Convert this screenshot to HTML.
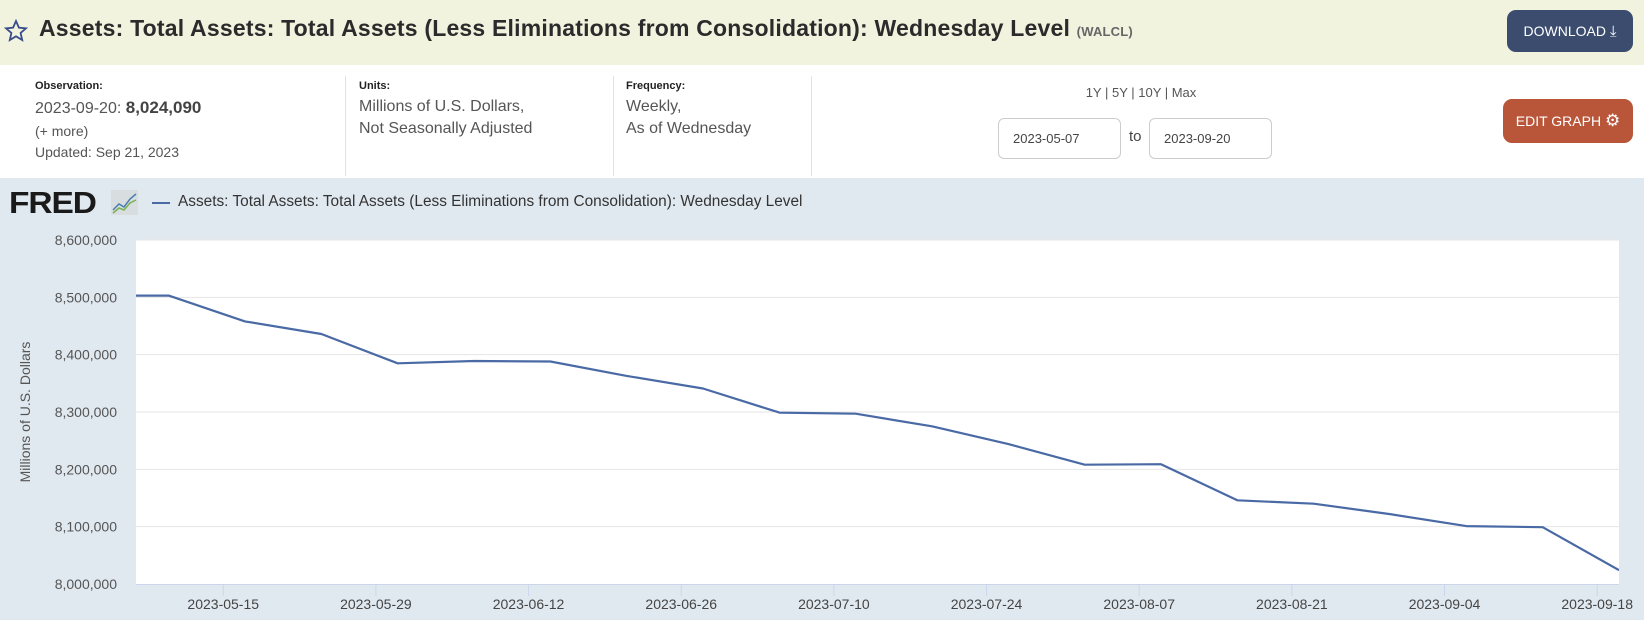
<!DOCTYPE html>
<html><head><meta charset="utf-8">
<style>
*{box-sizing:border-box;margin:0;padding:0}
body{width:1644px;height:620px;overflow:hidden;background:#fff;font-family:"Liberation Sans","DejaVu Sans",sans-serif;color:#333;position:relative}
.abs{position:absolute}
#header{left:0;top:0;width:1644px;height:65px;background:#f1f3df}
#title{left:39px;top:15px;font-size:23px;font-weight:bold;color:#2b2b2b;white-space:nowrap;letter-spacing:0.2px}
#title small{font-size:13px;font-weight:bold;color:#666}
.btn{color:#fff;font-size:14px;border-radius:9px;display:flex;align-items:center;justify-content:center}
.lbl{font-size:11px;font-weight:bold;color:#222}
.txt{font-size:16px;color:#555;line-height:22px}
.sep{width:1px;background:#dde3ea;top:76px;height:100px}
.inp{border:1px solid #ccc;border-radius:6px;font-size:13px;color:#444;padding:0 0 0 14px;display:flex;align-items:center}
#chartbg{left:0;top:178px;width:1644px;height:442px;background:#e1e9f0}
</style></head><body>
<div id="header" class="abs"></div>
<svg class="abs" style="left:4px;top:19px" width="24" height="24" viewBox="0 0 24 24"><polygon points="12,2 14.9,8.6 22,9.3 16.6,14 18.2,21 12,17.3 5.8,21 7.4,14 2,9.3 9.1,8.6" fill="none" stroke="#3b4c8a" stroke-width="1.8"/></svg>
<div id="title" class="abs">Assets: Total Assets: Total Assets (Less Eliminations from Consolidation): Wednesday Level <small>(WALCL)</small></div>
<div class="abs btn" style="left:1507px;top:10px;width:126px;height:42px;background:#3b4c6e">DOWNLOAD&nbsp;<span style="font-size:15px">⤓</span></div>

<div class="abs lbl" style="left:35px;top:80px">Observation:</div>
<div class="abs txt" style="left:35px;top:97px">2023-09-20: <b style="font-size:17px;color:#444">8,024,090</b></div>
<div class="abs txt" style="left:35px;top:120px;font-size:14px">(+ more)</div>
<div class="abs txt" style="left:35px;top:141px;font-size:14px">Updated: Sep 21, 2023</div>
<div class="abs sep" style="left:345px"></div>
<div class="abs lbl" style="left:359px;top:80px">Units:</div>
<div class="abs txt" style="left:359px;top:96px">Millions of U.S. Dollars,<br>Not Seasonally Adjusted</div>
<div class="abs sep" style="left:613px"></div>
<div class="abs lbl" style="left:626px;top:80px">Frequency:</div>
<div class="abs txt" style="left:626px;top:96px">Weekly,<br>As of Wednesday</div>
<div class="abs sep" style="left:811px"></div>
<div class="abs" style="left:1071px;top:85px;width:140px;text-align:center;font-size:13px;color:#555">1Y | 5Y | 10Y | Max</div>
<div class="abs inp" style="left:998px;top:118px;width:123px;height:41px">2023-05-07</div>
<div class="abs" style="left:1129px;top:128px;font-size:15px;color:#444">to</div>
<div class="abs inp" style="left:1149px;top:118px;width:123px;height:41px">2023-09-20</div>
<div class="abs btn" style="left:1503px;top:99px;width:130px;height:44px;background:#b9563a">EDIT GRAPH&nbsp;<span style="font-size:17px">⚙</span></div>

<div id="chartbg" class="abs"></div>
<div class="abs" style="left:9px;top:185px;font-size:31px;font-weight:900;color:#1a1a1a;letter-spacing:-1px;font-family:'Liberation Sans',sans-serif;transform:scaleX(1.08);transform-origin:left">FRED</div>
<svg class="abs" style="left:111px;top:190px" width="27" height="25"><rect width="27" height="25" fill="#d8dde0"/><polyline points="2,20 8,14 13,17 19,9 25,4" fill="none" stroke="#4a7fb0" stroke-width="1.5"/><polyline points="2,23 8,18 13,20 19,13 25,10" fill="none" stroke="#7ab050" stroke-width="1.5"/></svg>
<div class="abs" style="left:152px;top:202px;width:18px;height:2px;background:#4a6aa5"></div>
<div class="abs" style="left:178px;top:193px;font-size:15.4px;color:#333">Assets: Total Assets: Total Assets (Less Eliminations from Consolidation): Wednesday Level</div>

<svg id="chart" class="abs" style="left:0;top:0" width="1644" height="620"></svg>
<script>
const dates=["2023-05-03","2023-05-10","2023-05-17","2023-05-24","2023-05-31","2023-06-07","2023-06-14","2023-06-21","2023-06-28","2023-07-05","2023-07-12","2023-07-19","2023-07-26","2023-08-02","2023-08-09","2023-08-16","2023-08-23","2023-08-30","2023-09-06","2023-09-13","2023-09-20"];
const values=[8503,8503,8458,8436,8385,8389,8388,8363,8341,8299,8297,8275,8244,8208,8209,8146,8140,8122,8101,8099,8024];
const yTicks=[8000,8100,8200,8300,8400,8500,8600];
const yTickLabels=["8,000,000","8,100,000","8,200,000","8,300,000","8,400,000","8,500,000","8,600,000"];
const xTicks=["2023-05-15","2023-05-29","2023-06-12","2023-06-26","2023-07-10","2023-07-24","2023-08-07","2023-08-21","2023-09-04","2023-09-18"];
const X0=136,X1=1619,Y0=584,Y1=240;
const d0=Date.parse("2023-05-07"),d1=Date.parse("2023-09-20");
const xs=d=>X0+(Date.parse(d)-d0)/(d1-d0)*(X1-X0);
const ys=v=>Y0-(v-8000)/(8600-8000)*(Y0-Y1);
const svg=document.getElementById('chart');const NS="http://www.w3.org/2000/svg";
function mk(t,a){const e=document.createElementNS(NS,t);for(const k in a)e.setAttribute(k,a[k]);svg.appendChild(e);return e;}
let r=mk('rect',{x:X0,y:Y1,width:X1-X0,height:Y0-Y1,fill:'#fff'});


yTicks.forEach((v,i)=>{
 if(i>0){const g=mk('line',{x1:X0,x2:X1,y1:ys(v),y2:ys(v),stroke:'#e6e6e6','stroke-width':1});
 
 }
 const t=mk('text',{x:117,y:ys(v)+5,'text-anchor':'end','font-size':14,fill:'#555','font-family':'Liberation Sans, sans-serif'});
 t.textContent=yTickLabels[i];
 
 
});
let ax=mk('line',{x1:X0,x2:X1,y1:Y0+0.5,y2:Y0+0.5,stroke:'#ccd6eb','stroke-width':1});


xTicks.forEach(d=>{
 const x=xs(d);
 const tk=mk('line',{x1:x,x2:x,y1:Y0,y2:Y0+12,stroke:'#ccd6eb'});
 
 
 const t=mk('text',{x:x,y:609,'text-anchor':'middle','font-size':14,fill:'#444','font-family':'Liberation Sans, sans-serif'});
 t.textContent=d;
 
 
});
const yt=mk('text',{x:0,y:0,transform:'translate(30,412) rotate(-90)','text-anchor':'middle','font-size':14,fill:'#555','font-family':'Liberation Sans, sans-serif'});
yt.textContent='Millions of U.S. Dollars';


const cp=mk('clipPath',{id:'clip'});const cr=document.createElementNS(NS,'rect');
cr.setAttribute('x',X0);cr.setAttribute('y',Y1);cr.setAttribute('width',X1-X0);cr.setAttribute('height',Y0-Y1);cp.appendChild(cr);
const pts=dates.map((d,i)=>xs(d).toFixed(1)+','+ys(values[i]).toFixed(1)).join(' ');
const pl=mk('polyline',{points:pts,fill:'none',stroke:'#4a6aa5','stroke-width':2.2,'clip-path':'url(#clip)','stroke-linejoin':'round'});


</script>
</body></html>
